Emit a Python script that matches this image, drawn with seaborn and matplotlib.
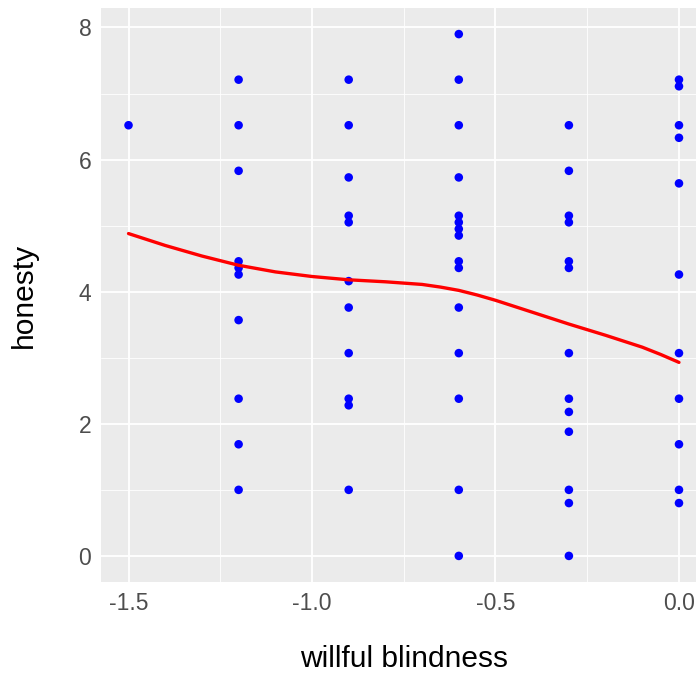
import numpy as np
import pandas as pd
import matplotlib
matplotlib.use("Agg")
import matplotlib.pyplot as plt
import seaborn as sns

# ---- data ----
wb_m15 = [6.52]
wb_m12 = [7.21, 6.52, 5.83, 4.46, 4.36, 4.26, 3.57, 2.38, 1.69, 1.0]
wb_m09 = [7.21, 6.52, 5.73, 5.15, 5.05, 4.16, 3.76, 3.07, 2.38, 2.28, 1.0]
wb_m06 = [7.9, 7.21, 6.52, 5.73, 5.15, 5.05, 4.95, 4.85, 4.46, 4.36, 3.76, 3.07, 2.38, 1.0, 0.0]
wb_m03 = [6.52, 5.83, 5.15, 5.05, 4.46, 4.36, 3.07, 2.38, 2.18, 1.88, 1.0, 0.8, 0.0]
wb_0 = [7.21, 7.11, 6.52, 6.33, 5.64, 4.26, 3.07, 2.38, 1.69, 1.0, 0.8]
x_levels = [-1.5, -1.2, -0.9, -0.6, -0.3, 0.0]

# smoothed (loess) line
smooth_x = [-1.5, -1.4, -1.3, -1.2, -1.1, -1.0, -0.9, -0.8, -0.75, -0.7, -0.65, -0.6,
            -0.55, -0.5, -0.4, -0.3, -0.2, -0.1, -0.05, 0.0]
smooth_y = [4.88, 4.70, 4.54, 4.40, 4.30, 4.23, 4.18, 4.15, 4.13, 4.11, 4.07, 4.02,
            3.95, 3.87, 3.69, 3.51, 3.34, 3.16, 3.05, 2.93]

x_ticks = [-1.5, -1.0, -0.5, 0.0]
x_ticklabels = ["-1.5", "-1.0", "-0.5", "0.0"]
y_ticks = [0, 2, 4, 6, 8]

groups = [wb_m15, wb_m12, wb_m09, wb_m06, wb_m03, wb_0]
xs, ys = [], []
for xv, g in zip(x_levels, groups):
    xs += [xv] * len(g)
    ys += g
df = pd.DataFrame({"willful blindness": xs, "honesty": ys})
fit = pd.DataFrame({"x": smooth_x, "y": smooth_y})

# ---- styling ----
sns.set_theme(style="darkgrid", rc={
    "axes.facecolor": "#EBEBEB",
    "grid.color": "white",
})
plt.rcParams["font.family"] = ["Liberation Sans", "DejaVu Sans"]

fig = plt.figure(figsize=(6.96, 6.76), dpi=100)
W, H = 696, 676
left, right, top, bottom = 101, 706.5, 8, 582
ax = fig.add_axes([left / W, 1 - bottom / H, (right - left) / W, (bottom - top) / H])

sns.scatterplot(data=df, x="willful blindness", y="honesty", color="#0000FF",
                s=38, edgecolor="none", ax=ax, zorder=3)
sns.lineplot(data=fit, x="x", y="y", color="#FF0000", linewidth=2.4, ax=ax, zorder=4)

ax.set_xlim(-1.575, 0.075)
ax.set_ylim(-0.395, 8.295)
ax.set_xticks(x_ticks)
ax.set_xticklabels(x_ticklabels)
ax.set_yticks(y_ticks)
ax.set_xticks([-1.25, -0.75, -0.25], minor=True)
ax.set_yticks([1, 3, 5, 7], minor=True)
ax.grid(which="major", color="white", linewidth=1.3)
ax.grid(which="minor", color="white", linewidth=0.6)
for s in ax.spines.values():
    s.set_visible(False)
ax.tick_params(axis="both", which="major", length=4, width=1, color="#333333",
               labelcolor="#4D4D4D", labelsize=16.5, pad=3)
ax.tick_params(axis="x", which="major", pad=3)
ax.tick_params(axis="both", which="minor", length=0)
ax.set_xlabel("willful blindness", fontsize=21.5, color="black", labelpad=22)
ax.set_ylabel("honesty", fontsize=21.5, color="black", labelpad=29)

fig.savefig("out.png", dpi=100)
